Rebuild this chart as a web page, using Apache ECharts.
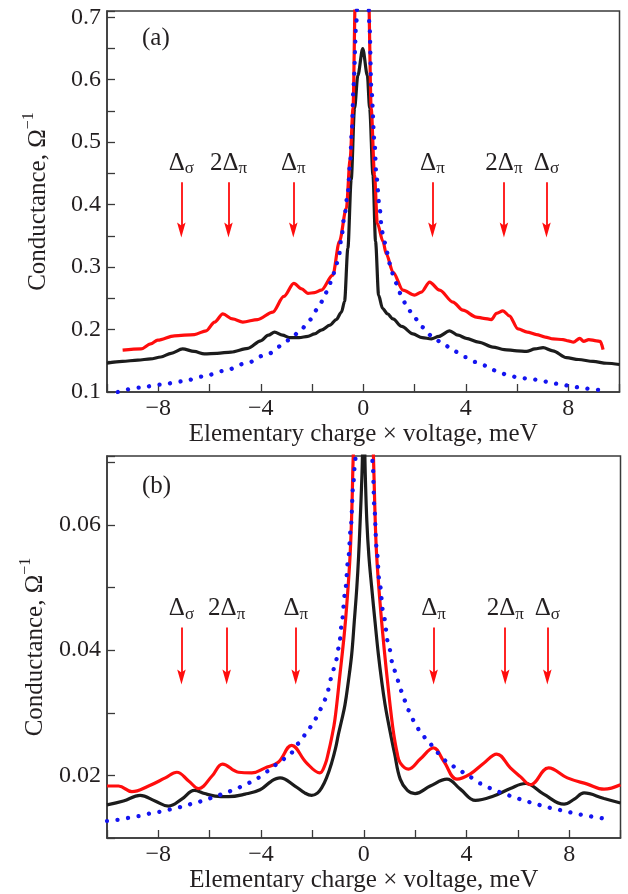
<!DOCTYPE html>
<html>
<head>
<meta charset="utf-8">
<script src="https://cdn.jsdelivr.net/npm/echarts/dist/echarts.min.js"></script>
<style>
  html, body { margin: 0; padding: 0; background: #fff; }
  #chart { width: 628px; height: 894px; }
</style>
</head>
<body>
<div id="chart"></div>
<script>
// Tunnelling conductance spectra, panel (a) and panel (b).
// Each curve is a list of [eV (meV), conductance (1/Ohm)] pairs.

const curve1A = [
  [-10, 0.146], [-9.4, 0.149], [-8.8, 0.151], [-8.3, 0.153], [-7.9, 0.156], [-7.5, 0.162],
  [-7.05, 0.169], [-6.6, 0.165], [-6.2, 0.161], [-5.7, 0.162], [-5.16, 0.164], [-4.5, 0.170],
  [-4.0, 0.182], [-3.7, 0.191], [-3.46, 0.196], [-3.15, 0.191], [-2.88, 0.187], [-2.5, 0.187],
  [-2.16, 0.189], [-1.9, 0.193], [-1.64, 0.199], [-1.3, 0.207], [-1.05, 0.216], [-0.85, 0.228],
  [-0.73, 0.245], [-0.6, 0.33], [-0.47, 0.44], [-0.34, 0.554], [-0.21, 0.607], [-0.02, 0.65],
  [0.16, 0.607], [0.25, 0.554], [0.38, 0.447], [0.48, 0.341], [0.6, 0.255], [0.75, 0.234],
  [0.95, 0.225], [1.16, 0.217], [1.5, 0.205], [1.94, 0.193], [2.3, 0.187], [2.66, 0.185],
  [2.95, 0.189], [3.37, 0.198], [3.7, 0.191], [4.02, 0.186], [4.5, 0.180], [5.06, 0.172],
  [5.5, 0.168], [6.0, 0.166], [6.37, 0.165], [6.7, 0.169], [7.02, 0.171], [7.4, 0.166],
  [7.93, 0.155], [8.4, 0.152], [8.97, 0.149], [9.5, 0.146], [10, 0.144]
];

const curve2A = [
  [-9.39, 0.167], [-8.67, 0.169], [-8.3, 0.177], [-8.02, 0.183], [-7.37, 0.19], [-6.59, 0.192],
  [-6.13, 0.198], [-5.8, 0.212], [-5.48, 0.225], [-5.1, 0.217], [-4.7, 0.212], [-4.12, 0.216],
  [-3.53, 0.228], [-3.1, 0.253], [-2.71, 0.274], [-2.4, 0.265], [-2.16, 0.258], [-1.9, 0.259],
  [-1.64, 0.263], [-1.19, 0.287], [-0.93, 0.341], [-0.66, 0.394], [-0.51, 0.474], [-0.4, 0.554],
  [-0.3, 0.75], [-0.05, 1.0], [0.2, 0.75], [0.31, 0.554], [0.44, 0.447], [0.55, 0.37],
  [0.77, 0.341], [0.9, 0.321], [1.16, 0.292], [1.55, 0.263], [2.0, 0.255], [2.27, 0.26],
  [2.59, 0.276], [2.98, 0.263], [3.5, 0.244], [3.89, 0.231], [4.41, 0.22], [4.7, 0.218],
  [5.0, 0.216], [5.2, 0.226], [5.45, 0.23], [5.7, 0.222], [6.04, 0.201], [6.4, 0.196],
  [6.76, 0.192], [7.1, 0.188], [7.41, 0.185], [7.8, 0.184], [8.0, 0.182], [8.2, 0.18],
  [8.45, 0.186], [8.6, 0.181], [8.8, 0.184], [9.1, 0.182], [9.25, 0.181], [9.36, 0.168]
];

const fitA = [
  [-9.58, 0.1], [-8.74, 0.107], [-7.9, 0.112], [-7.05, 0.117], [-6.24, 0.125], [-5.42, 0.134],
  [-4.57, 0.146], [-3.73, 0.161], [-2.88, 0.183], [-2.46, 0.198], [-2.1, 0.215], [-1.8, 0.232],
  [-1.55, 0.248], [-1.38, 0.265], [-1.21, 0.282], [-1.08, 0.3], [-0.95, 0.317], [-0.86, 0.345],
  [-0.73, 0.383], [-0.6, 0.42], [-0.51, 0.469], [-0.44, 0.522], [-0.38, 0.591], [-0.27, 0.693],
  [-0.15, 0.85], [-0.02, 1.0], [0.12, 0.85], [0.25, 0.682], [0.31, 0.59], [0.44, 0.5],
  [0.51, 0.447], [0.64, 0.394], [0.73, 0.357], [0.83, 0.34], [0.92, 0.324], [1.03, 0.306],
  [1.16, 0.289], [1.31, 0.273], [1.47, 0.256], [1.68, 0.239], [1.96, 0.221], [2.29, 0.204],
  [2.72, 0.188], [3.14, 0.176], [3.57, 0.165], [3.98, 0.156], [4.39, 0.148], [4.8, 0.142],
  [5.23, 0.133], [5.65, 0.127], [6.07, 0.123], [6.5, 0.121], [6.89, 0.119], [7.3, 0.115],
  [7.73, 0.112], [8.15, 0.109], [8.58, 0.106], [9.0, 0.104], [9.4, 0.102]
];

const curve1B = [
  [-10, 0.0153], [-9.36, 0.0159], [-8.71, 0.0168], [-8.13, 0.0159], [-7.61, 0.0151], [-7.09, 0.0162],
  [-6.6, 0.0176], [-6.2, 0.0171], [-5.79, 0.0167], [-5.27, 0.0166], [-4.62, 0.017], [-4.04, 0.0177],
  [-3.59, 0.0191], [-3.26, 0.0196], [-2.68, 0.0183], [-2.3, 0.0172], [-2.03, 0.0168], [-1.8, 0.0172],
  [-1.64, 0.018], [-1.45, 0.0196], [-1.25, 0.022], [-1.1, 0.0243], [-0.99, 0.0265], [-0.86, 0.0288],
  [-0.73, 0.0313], [-0.6, 0.035], [-0.47, 0.0393], [-0.37, 0.0445], [-0.27, 0.05], [-0.2, 0.055],
  [-0.14, 0.0606], [-0.07, 0.068], [0, 0.078], [0.06, 0.068], [0.12, 0.0606], [0.2, 0.055],
  [0.31, 0.05], [0.44, 0.0445], [0.57, 0.0393], [0.7, 0.035], [0.83, 0.0313], [0.94, 0.0288],
  [1.05, 0.0265], [1.2, 0.0235], [1.42, 0.0194], [1.7, 0.0176], [2.0, 0.0171], [2.59, 0.0183],
  [3.24, 0.0194], [3.76, 0.0178], [4.35, 0.016], [5.06, 0.0167], [5.71, 0.0179], [6.3, 0.0187],
  [7.01, 0.017], [7.8, 0.0154], [8.2, 0.0162], [8.58, 0.0172], [9.36, 0.0163], [10, 0.0156]
];

const curve2B = [
  [-10, 0.0183], [-9.55, 0.0183], [-9.03, 0.0174], [-8.38, 0.0183], [-7.73, 0.0196], [-7.28, 0.0205],
  [-6.82, 0.0191], [-6.43, 0.0179], [-5.91, 0.0199], [-5.5, 0.0218], [-4.88, 0.0205], [-4.36, 0.0204],
  [-3.84, 0.0212], [-3.33, 0.0221], [-2.81, 0.0248], [-2.23, 0.022], [-1.71, 0.0204], [-1.5, 0.0218],
  [-1.38, 0.0236], [-1.25, 0.026], [-1.12, 0.029], [-0.93, 0.036], [-0.76, 0.0425], [-0.66, 0.0473],
  [-0.53, 0.0553], [-0.46, 0.063], [-0.4, 0.072], [-0.2, 0.09], [0, 0.1], [0.2, 0.09], [0.37, 0.072],
  [0.43, 0.063], [0.5, 0.0553], [0.64, 0.0473], [0.8, 0.04], [0.96, 0.0337], [1.06, 0.03],
  [1.16, 0.0268], [1.3, 0.0236], [1.42, 0.022], [1.74, 0.021], [2.2, 0.0226], [2.72, 0.0244],
  [3.11, 0.0223], [3.63, 0.0194], [4.14, 0.0202], [4.66, 0.0219], [5.18, 0.0234], [5.71, 0.0212],
  [6.1, 0.0198], [6.49, 0.0185], [7.2, 0.0212], [7.93, 0.0196], [8.71, 0.0186], [9.36, 0.0178],
  [10, 0.0185]
];

const fitB = [
  [-10, 0.0127], [-9.6, 0.0129], [-9.16, 0.0132], [-8.73, 0.0135], [-8.31, 0.0139], [-7.88, 0.0142],
  [-7.47, 0.0146], [-7.05, 0.015], [-6.63, 0.0155], [-6.21, 0.016], [-5.8, 0.0166], [-5.39, 0.0172],
  [-4.96, 0.0179], [-4.55, 0.0187], [-4.13, 0.0196], [-3.7, 0.0207], [-3.31, 0.022], [-2.86, 0.0235],
  [-2.5, 0.0252], [-2.21, 0.0269], [-1.93, 0.0287], [-1.72, 0.0304], [-1.53, 0.032], [-1.38, 0.0337],
  [-1.25, 0.0358], [-1.1, 0.038], [-0.96, 0.0406], [-0.86, 0.0441], [-0.73, 0.0491], [-0.6, 0.0547],
  [-0.5, 0.0598], [-0.41, 0.0664], [-0.34, 0.0699], [-0.2, 0.085], [0, 0.1], [0.2, 0.085],
  [0.35, 0.0699], [0.41, 0.063], [0.5, 0.0563], [0.61, 0.051], [0.77, 0.0457], [0.96, 0.0409],
  [1.16, 0.0372], [1.29, 0.0356], [1.42, 0.0338], [1.57, 0.0321], [1.74, 0.0304], [1.96, 0.0287],
  [2.2, 0.027], [2.52, 0.0253], [2.87, 0.0236], [3.3, 0.022], [3.71, 0.0208], [4.14, 0.0197],
  [4.55, 0.0187], [4.98, 0.0179], [5.39, 0.0172], [5.82, 0.0166], [6.24, 0.016], [6.64, 0.0155],
  [7.06, 0.015], [7.48, 0.0146], [7.9, 0.0142], [8.33, 0.0138], [8.74, 0.0135], [9.16, 0.0132],
  [9.56, 0.0129]
];

// Gap features marked by arrows: bias position and label (rich-text markup)
const gapNames = ['{m|Δ}{s|σ}', '{m|2Δ}{s|π}', '{m|Δ}{s|π}', '{m|Δ}{s|π}', '{m|2Δ}{s|π}', '{m|Δ}{s|σ}'];
const gapBiasA = [-7.1, -5.26, -2.73, 2.7, 5.49, 7.15];
const gapBiasB = [-7.1, -5.34, -2.65, 2.72, 5.51, 7.15];
// arrow tail level and arrow-head centre level in each panel
const arrowLevelsA = [0.436, 0.3592];
const arrowLevelsB = [0.0436, 0.0357];

// Curve numbers: [bias, conductance, text]
const curveTagsA = [[-4.31, 0.247, '2'], [-1.45, 0.171, '1']];
const curveTagsB = [[-4.57, 0.0239, '2'], [-3.34, 0.0162, '1']];

const xTicks = { min: -10, max: 10, step: 2, labelStep: 4 };
const yTicksA = { min: 0.1, max: 0.71, step: 0.05 };
const yTicksB = { min: 0.01, max: 0.071, step: 0.01 };

const SERIF = '"Liberation Serif", "Times New Roman", serif';
const INK = '#231f20';
const AXIS = '#3a3a3a';
const RED = '#ff0d0d';
const BLUE = '#1414f0';

function minus(v) { return v < 0 ? '\u2212' + (-v) : String(v); }

function xAxisFor(gridIndex) {
  return {
    type: 'value', gridIndex,
    min: xTicks.min, max: xTicks.max, interval: xTicks.step,
    name: 'Elementary charge × voltage, meV',
    nameLocation: 'middle', nameGap: 27,
    nameTextStyle: { fontFamily: SERIF, fontSize: 25, color: INK },
    axisLine: { show: true, onZero: false, lineStyle: { color: AXIS, width: 1.5 } },
    axisTick: { show: true, inside: true, length: 8, lineStyle: { color: AXIS, width: 1.3 } },
    splitLine: { show: false },
    axisLabel: {
      margin: 5, fontFamily: SERIF, fontSize: 24, color: INK,
      formatter: v => {
        const r = Math.round(v);
        if (Math.abs(r) >= 10 || r % xTicks.labelStep !== 0) return '';
        return minus(r);
      }
    }
  };
}

function yAxisFor(gridIndex, t, labelEvery, digits) {
  return {
    type: 'value', gridIndex,
    min: t.min, max: t.max, interval: t.step,
    name: '{n|Conductance, Ω}{p|−1}',
    nameLocation: 'middle', nameGap: 56, nameRotate: 90,
    nameTextStyle: {
      fontFamily: SERIF, fontSize: 25, color: INK,
      rich: {
        n: { fontFamily: SERIF, fontSize: 25, color: INK, lineHeight: 30, verticalAlign: 'bottom' },
        p: { fontFamily: SERIF, fontSize: 16, color: INK, lineHeight: 30, verticalAlign: 'top' }
      }
    },
    axisLine: { show: true, onZero: false, lineStyle: { color: AXIS, width: 1.5 } },
    axisTick: { show: true, inside: true, length: 8, lineStyle: { color: AXIS, width: 1.3 } },
    splitLine: { show: false },
    axisLabel: {
      margin: 6, fontFamily: SERIF, fontSize: 24, color: INK,
      formatter: v => {
        const units = v / (t.step * labelEvery);
        if (Math.abs(units - Math.round(units)) > 1e-6) return '';
        return v.toFixed(digits);
      }
    }
  };
}

function curveSeries(idx, data, color, z, smooth, monotone) {
  return {
    type: 'line', xAxisIndex: idx, yAxisIndex: idx, data,
    showSymbol: false, symbol: 'none', smooth, smoothMonotone: monotone ? 'x' : null,
    clip: true, z,
    lineStyle: { color, width: 3.2 }
  };
}

function fitSeries(idx, data) {
  return {
    type: 'line', xAxisIndex: idx, yAxisIndex: idx, data,
    showSymbol: false, symbol: 'none', smooth: 0.3, smoothMonotone: 'x',
    clip: true, z: 4,
    lineStyle: { color: BLUE, width: 4.3, type: [0.01, 10.6], cap: 'round' }
  };
}

// Arrow shafts (markLine) with their labels above the tail
function arrowShafts(idx, bias, levels) {
  return {
    type: 'line', xAxisIndex: idx, yAxisIndex: idx, data: [], z: 6,
    markLine: {
      silent: true, animation: false,
      symbol: ['none', 'none'],
      lineStyle: { color: RED, width: 1.8, type: 'solid' },
      label: {
        show: true, position: 'start', distance: 4,
        formatter: p => p.name,
        color: INK,
        rich: {
          m: { fontFamily: SERIF, fontSize: 25, color: INK, lineHeight: 30, verticalAlign: 'middle' },
          s: { fontFamily: SERIF, fontSize: 17, color: INK, lineHeight: 30, verticalAlign: 'bottom', padding: [0, 0, 1, 0] }
        }
      },
      data: bias.map((b, i) => [
        { name: gapNames[i], coord: [b, levels[0]] },
        { coord: [b, levels[1]] }
      ])
    }
  };
}

// Arrow heads: notched downward triangles centred on the shaft ends
function arrowHeads(idx, bias, levels) {
  return {
    type: 'scatter', xAxisIndex: idx, yAxisIndex: idx, z: 7, silent: true,
    symbol: 'path://M0,0 L5,4 L10,0 L5,20 Z', symbolSize: [8.5, 15], symbolKeepAspect: false,
    itemStyle: { color: RED, opacity: 1 },
    data: bias.map(b => [b, levels[1]])
  };
}

function tagSeries(idx, tags) {
  return {
    type: 'scatter', xAxisIndex: idx, yAxisIndex: idx, z: 7,
    symbolSize: 1, itemStyle: { opacity: 0 },
    data: tags.map(t => ({ value: [t[0], t[1]], name: t[2] })),
    label: {
      show: true, position: 'inside', formatter: p => p.name,
      fontFamily: SERIF, fontStyle: 'italic', fontSize: 25, color: INK
    }
  };
}

const chart = echarts.init(document.getElementById('chart'), null, { renderer: 'canvas' });
chart.setOption({
  animation: false,
  backgroundColor: '#fff',
  title: [
    { text: '(a)', left: 137, top: 21, textStyle: { fontFamily: SERIF, fontSize: 25, fontWeight: 'normal', color: INK } },
    { text: '(b)', left: 137, top: 469, textStyle: { fontFamily: SERIF, fontSize: 25, fontWeight: 'normal', color: INK } }
  ],
  grid: [
    { left: 107, top: 11, width: 512.5, height: 381, show: true, borderColor: AXIS, borderWidth: 1.5, backgroundColor: 'transparent' },
    { left: 107, top: 456, width: 513.5, height: 382, show: true, borderColor: AXIS, borderWidth: 1.5, backgroundColor: 'transparent' }
  ],
  xAxis: [xAxisFor(0), xAxisFor(1)],
  yAxis: [yAxisFor(0, yTicksA, 2, 1), yAxisFor(1, yTicksB, 2, 2)],
  series: [
    curveSeries(0, curve1A, '#1c1c1c', 2, 0.3, true),
    curveSeries(0, curve2A, RED, 3, 0.3, true),
    fitSeries(0, fitA),
    arrowShafts(0, gapBiasA, arrowLevelsA),
    arrowHeads(0, gapBiasA, arrowLevelsA),
    tagSeries(0, curveTagsA),
    curveSeries(1, curve1B, '#1c1c1c', 2, 0.4, false),
    curveSeries(1, curve2B, RED, 3, 0.4, false),
    fitSeries(1, fitB),
    arrowShafts(1, gapBiasB, arrowLevelsB),
    arrowHeads(1, gapBiasB, arrowLevelsB),
    tagSeries(1, curveTagsB)
  ]
});
</script>
</body>
</html>
